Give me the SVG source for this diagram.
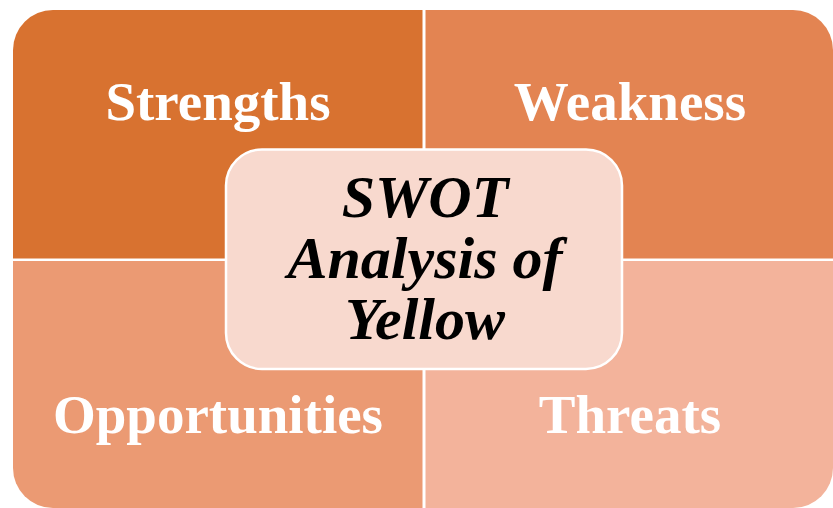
<svg xmlns="http://www.w3.org/2000/svg" width="833" height="508" viewBox="0 0 833 508">
<style>
.q{stroke:none}
.lbl{font-family:"Liberation Serif","Times New Roman",serif;font-weight:bold;font-size:55px;fill:#ffffff;text-anchor:middle}
.ctr{font-family:"Liberation Serif","Times New Roman",serif;font-weight:bold;font-style:italic;font-size:60px;fill:#000000;text-anchor:middle}
</style>
<rect width="833" height="508" fill="#ffffff"/>
<g id="strengths">
<path class="q" fill="#D87230" d="M13,50 A40,40 0 0 1 53,10 L422.5,10 L422.5,258.5 L13,258.5 Z"/>
<text class="lbl" x="218" y="120">Strengths</text>
</g>
<g id="weakness">
<path class="q" fill="#E38452" d="M425.5,10 L793,10 A40,40 0 0 1 833,50 L833,258.5 L425.5,258.5 Z"/>
<text class="lbl" x="630" y="120">Weakness</text>
</g>
<g id="opportunities">
<path class="q" fill="#EB9A73" d="M13,261 L422.5,261 L422.5,508 L53,508 A40,40 0 0 1 13,468 Z"/>
<text class="lbl" x="218" y="433">Opportunities</text>
</g>
<g id="threats">
<path class="q" fill="#F3B39B" d="M425.5,261 L833,261 L833,468 A40,40 0 0 1 793,508 L425.5,508 Z"/>
<text class="lbl" x="630" y="433">Threats</text>
</g>
<g id="connectors"></g>
<g id="center">
<rect x="226" y="149.5" width="396" height="219.5" rx="36" ry="36" fill="#F8D9CE" stroke="#ffffff" stroke-width="2.5"/>
<text class="ctr" x="425" y="217">SWOT</text>
<text class="ctr" x="425" y="278">Analysis of</text>
<text class="ctr" x="425" y="339">Yellow</text>
</g>
</svg>
